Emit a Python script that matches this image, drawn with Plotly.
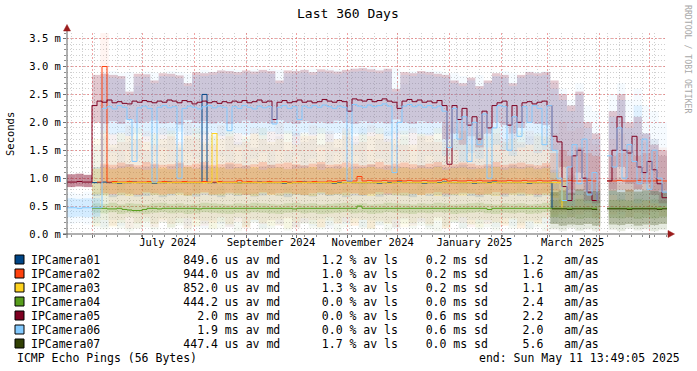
import plotly.graph_objects as go
from datetime import datetime, timedelta

# ---------------- data ----------------
START = datetime(2024, 5, 16, 13, 49, 5)
END = datetime(2025, 5, 11, 13, 49, 5)
N = None

names = ["IPCamera01", "IPCamera02", "IPCamera03", "IPCamera04", "IPCamera05", "IPCamera06", "IPCamera07"]
colors = ["#004586", "#ff420e", "#ffd320", "#579d1c", "#7e0021", "#83caff", "#314004"]
med_val = ["849.6", "944.0", "852.0", "444.2", "2.0", "1.9", "447.4"]
med_unit = ["us", "us", "us", "us", "ms", "ms", "us"]
loss_pct = ["1.2", "1.0", "1.3", "0.0", "0.0", "0.0", "1.7"]
sd_ms = ["0.2", "0.2", "0.2", "0.0", "0.6", "0.6", "0.0"]
am_as = ["1.2", "1.6", "1.1", "2.4", "2.2", "2.0", "5.6"]

# median samples, one every 3 days (ms)
m01 = [N]*5 + [0.92, 0.92, 0.93, 0.92, 0.92, 0.91, 0.92, 0.92, 0.93, 0.92, 0.92, 0.92, 0.91, 0.92, 0.92, 0.93, 0.92, 0.92, 0.92, 0.92, 0.92, 0.92,
       2.50] + [0.92, 0.92, 0.93, 0.92, 0.92, 0.92, 0.91, 0.92, 0.92, 0.92, 0.93, 0.92, 0.92, 0.92, 0.92, 0.91, 0.92, 0.92, 0.92, 0.93,
       0.92, 0.92, 0.92, 0.92, 0.92, 0.91, 0.92, 0.92, 0.93, 0.92, 0.92, 0.92, 0.92, 0.92, 0.91, 0.92, 0.92, 0.92, 0.93, 0.92,
       0.92, 0.92, 0.92, 0.91, 0.92, 0.92, 0.92, 0.93, 0.92, 0.92, 0.92, 0.92, 0.92, 0.91, 0.92, 0.92, 0.92, 0.93, 0.92, 0.92,
       0.92, 0.92, 0.92, 0.92, 0.91, 0.92, 0.92, 0.92, 0.92] + [0.45] + [N]*22
m02 = [N]*6 + [0.93, 3.00] + [0.93, 0.94, 0.93, 0.93, 0.94, 0.93, 0.93, 0.93, 0.94, 0.93, 0.93, 0.94, 0.93, 0.93, 0.93, 0.94, 0.93, 0.93, 0.93, 0.94,
       0.93, 0.93, 0.94, 0.93, 0.93, 0.93, 0.96, 0.93, 0.94, 0.93, 0.93, 0.93, 0.94, 0.93, 0.93, 0.94, 0.93, 0.93, 0.94, 0.93,
       0.93, 0.94, 0.93, 0.93, 0.95, 0.94, 0.95, 0.96, 0.95, 0.95, 1.03, 0.95, 0.96, 0.95, 0.95, 0.96, 0.95, 0.95, 0.96, 0.95,
       0.96, 0.95, 0.95, 0.96, 0.95, 0.95, 0.96, 0.98, 0.95, 0.96, 0.95, 0.95, 0.96, 0.95, 0.96, 0.95, 0.95, 0.96, 0.95, 0.95,
       0.96, 0.95, 0.95, 0.96, 0.95, 0.95, 0.96, 0.95, 0.95, 0.96, 0.95, 0.95, 0.96, 0.95, 0.95, 0.95, 0.96, 0.95, 0.95] + [N] + \
      [0.95, 0.95, 0.96, 0.95, 0.95, 0.95, 0.96, 0.95, 0.95, 0.95, 0.96, 0.95]
m03 = [N]*9 + [0.92]*20 + [1.80] + [0.92, 0.92, 0.92, 0.92, 0.91, 0.92, 0.92, 0.92, 0.92, 0.92, 0.92, 0.92, 0.92, 0.92, 0.91, 0.92, 0.92, 0.92, 0.92, 0.92,
       0.92, 0.92, 0.92, 0.92, 0.91, 0.92, 0.92, 0.92, 0.92, 0.92, 0.92, 0.92, 0.92, 0.92, 0.91, 0.92, 0.92, 0.92, 0.92, 0.92,
       0.92, 0.92, 0.92, 0.92, 0.91, 0.92, 0.92, 0.92, 0.92, 0.92, 0.92, 0.92, 0.92, 0.92, 0.91, 0.92, 0.92, 0.92, 0.92, 0.92,
       0.92, 0.92, 0.92, 0.92, 0.92, 0.92, 0.92, 0.92, 0.92] + [0.45] + [N]*20
m04 = [N]*5 + [0.46, 0.46, 0.46, 0.45, 0.45, 0.46, 0.44, 0.43, 0.42, 0.42, 0.44, 0.46, 0.46, 0.45, 0.46, 0.46, 0.46, 0.46, 0.46, 0.46,
       0.46, 0.45, 0.46, 0.46, 0.46, 0.46, 0.46, 0.46, 0.46, 0.46, 0.46, 0.46, 0.46, 0.46, 0.46, 0.46, 0.46, 0.46, 0.46, 0.46,
       0.45, 0.46, 0.46, 0.46, 0.46, 0.46, 0.46, 0.46, 0.46, 0.46, 0.46, 0.46, 0.46, 0.50, 0.46, 0.46, 0.46, 0.46, 0.46, 0.46,
       0.46, 0.46, 0.46, 0.46, 0.46, 0.46, 0.46, 0.46, 0.46, 0.46, 0.46, 0.46, 0.46, 0.46, 0.46, 0.46, 0.46, 0.46, 0.46, 0.44,
       0.46, 0.46, 0.46, 0.46, 0.46, 0.46, 0.46, 0.46, 0.46, 0.46, 0.46, 0.46, 0.46, 0.46, 0.46, 0.46, 0.46, 0.46, 0.46, 0.46,
       0.46, 0.46] + [N] + [0.46]*12
m05 = [0.93, 0.93, 0.94, 0.93, 0.93,
       2.30, 2.38, 2.36, 2.40, 2.35, 2.37, 2.34, 2.33, 2.38, 2.36, 2.39, 2.37, 2.35, 2.38, 2.36, 2.40, 2.38, 2.35, 2.39, 2.37,
       2.33, 2.36, 2.38, 2.35, 2.37, 2.34, 2.37, 2.35, 2.38, 2.36, 2.39, 2.35, 2.37, 2.40, 2.36, 2.38,
       2.05,
       2.36, 2.39, 2.35, 2.37, 2.40, 2.36, 2.38, 2.35, 2.37, 2.41, 2.38, 2.36, 2.39, 2.37,
       2.20,
       2.42, 2.40, 2.38, 2.41, 2.37, 2.39, 2.42, 2.38, 2.36,
       2.25,
       2.38, 2.41, 2.37, 2.40, 2.36, 2.38, 2.35, 2.39, 2.30,
       1.25,
       2.30, 2.05, 2.25, 1.95, 2.10, 1.70, 2.20, 1.90, 2.30, 2.35, 2.38, 1.95, 2.30, 2.00, 2.35, 2.37, 2.33, 2.36, 2.38, 2.30,
       1.75, 1.65, 0.85, 0.60, 1.40, 1.50, 1.00, 0.75, 0.60, 0.75,
       N,
       0.95, 1.50, 2.10, 1.50, 1.45, 1.75, 1.20, 1.10, 1.30, 1.15, 0.90, 0.65]
m06 = [0.47, 0.47, 0.46, 0.47, 0.47, 0.47, 0.47,
       2.25, 2.28, 2.24, 2.30, 2.27, 2.05, 1.30, 2.26, 2.29, 2.25, 0.93, 2.27, 2.30, 2.26, 2.28, 1.00,
       2.25, 2.29, 2.27, 2.24, 2.28, 2.30, 2.26, 2.29, 2.27, 1.85,
       2.28, 2.25, 2.30, 2.27, 2.24, 2.29, 2.26, 2.28, 1.97,
       2.27, 2.30, 2.25, 2.28, 2.05,
       2.29, 2.26, 2.30, 2.27, 2.31, 2.28, 2.25, 2.29, 2.27, 0.95,
       2.32, 2.29, 2.27, 2.31, 2.28, 2.30, 2.33, 2.29, 1.10, 2.00,
       2.29, 2.32, 2.28, 2.31, 2.27, 2.30, 2.26, 2.29, 2.20,
       1.55, 2.25, 1.70, 2.10, 1.30, 2.00, 1.60, 2.15, 1.00, 1.90, 2.30, 2.28, 1.50, 2.10, 1.75, 2.28, 2.00, 2.30, 2.25, 1.60,
       2.30, 1.50, 1.00, 0.60, 1.20, 1.60, 0.90, 1.70, 0.70, 1.10, 0.60,
       N,
       1.40, 1.20, 1.90, 1.00, 1.60, 1.30, 0.90, 1.70, 0.80, 1.50, 1.00, 0.75]
m07 = [N]*97 + [0.45, 0.45, 0.45, 0.44, 0.45, 0.45, 0.45, 0.45, 0.44, 0.45] + [N] + [0.45, 0.45, 0.45, 0.45, 0.44, 0.45, 0.45, 0.45, 0.45, 0.45, 0.44, 0.45]

# smoke (5-day bins): dense band lo/hi
s01_lo = [N]*3 + [0.68, 0.70, 0.66, 0.69, 0.71, 0.67, 0.68, 0.70, 0.66, 0.69, 0.72, 0.68, 0.67, 0.70, 0.69, 0.66, 0.71, 0.68, 0.70, 0.67,
                  0.69, 0.72, 0.68, 0.66, 0.70, 0.69, 0.67, 0.71, 0.68, 0.70, 0.66, 0.69, 0.68, 0.72, 0.67, 0.70, 0.69, 0.68, 0.66, 0.71,
                  0.68, 0.70, 0.67, 0.69, 0.72, 0.68, 0.66, 0.70, 0.69, 0.67, 0.71, 0.68, 0.70, 0.66, 0.69, 0.68] + [N]*13
s01_hi = [N]*3 + [1.20, 1.23, 1.18, 1.22, 1.25, 1.19, 1.21, 1.24, 1.17, 1.22, 1.26, 1.20, 1.18, 1.23, 1.21, 1.19, 1.25, 1.20, 1.22, 1.18,
                  1.21, 1.24, 1.20, 1.17, 1.23, 1.22, 1.19, 1.25, 1.20, 1.22, 1.18, 1.21, 1.20, 1.24, 1.19, 1.22, 1.21, 1.20, 1.18, 1.23,
                  1.20, 1.22, 1.19, 1.21, 1.24, 1.20, 1.18, 1.22, 1.21, 1.19, 1.23, 1.20, 1.22, 1.18, 1.21, 1.15] + [N]*13
s02_lo = [N]*4 + [0.73, 0.71, 0.74, 0.72, 0.70, 0.75, 0.73, 0.71, 0.72, 0.74, 0.70, 0.73, 0.75, 0.71, 0.72, 0.74, 0.73, 0.70, 0.72, 0.75,
                  0.71, 0.73, 0.74, 0.72, 0.70, 0.73, 0.75, 0.71, 0.72, 0.74, 0.73, 0.70, 0.72, 0.75, 0.71, 0.73, 0.74, 0.72, 0.70, 0.73,
                  0.75, 0.71, 0.72, 0.74, 0.73, 0.70, 0.72, 0.75, 0.71, 0.73, 0.74, 0.72, 0.70, 0.73,
                  0.78, 0.76, 0.80, 0.77, 0.79, 0.76] + [N] + [0.77, 0.79, 0.76, 0.80, 0.78, 0.77, 0.79]
s02_hi = [N]*4 + [1.26, 1.24, 1.28, 1.25, 1.23, 1.29, 1.26, 1.24, 1.25, 1.28, 1.23, 1.26, 1.29, 1.24, 1.25, 1.28, 1.26, 1.23, 1.25, 1.29,
                  1.24, 1.26, 1.28, 1.25, 1.23, 1.26, 1.29, 1.24, 1.25, 1.28, 1.26, 1.23, 1.25, 1.29, 1.24, 1.26, 1.28, 1.25, 1.23, 1.26,
                  1.29, 1.24, 1.25, 1.28, 1.26, 1.23, 1.25, 1.29, 1.24, 1.26, 1.28, 1.25, 1.23, 1.27,
                  1.45, 1.50, 1.40, 1.55, 1.45, 1.40] + [N] + [1.40, 1.45, 1.50, 1.40, 1.45, 1.50, 1.40]
s03_lo = [N]*3 + [0.71, 0.69, 0.72, 0.70, 0.68, 0.71, 0.73, 0.70, 0.69, 0.72, 0.70, 0.68, 0.71, 0.73, 0.70, 0.69, 0.72, 0.70, 0.71, 0.68,
                  0.73, 0.70, 0.69, 0.72, 0.71, 0.70, 0.68, 0.73, 0.70, 0.71, 0.69, 0.72, 0.70, 0.68, 0.71, 0.73, 0.70, 0.69, 0.72, 0.70,
                  0.71, 0.68, 0.73, 0.70, 0.69, 0.72, 0.71, 0.70, 0.68, 0.73, 0.70, 0.71, 0.69, 0.72, 0.70, 0.65, 0.55] + [N]*12
s03_hi = [N]*3 + [1.17, 1.19, 1.16, 1.18, 1.20, 1.17, 1.15, 1.18, 1.19, 1.16, 1.18, 1.20, 1.17, 1.15, 1.18, 1.19, 1.16, 1.18, 1.17, 1.20,
                  1.15, 1.18, 1.19, 1.16, 1.17, 1.18, 1.20, 1.15, 1.18, 1.17, 1.19, 1.16, 1.18, 1.20, 1.17, 1.15, 1.18, 1.19, 1.16, 1.18,
                  1.17, 1.20, 1.15, 1.18, 1.19, 1.16, 1.17, 1.18, 1.20, 1.15, 1.18, 1.17, 1.19, 1.16, 1.18, 1.10, 1.00] + [N]*12
s04_lo = [N]*3 + [0.38, 0.37, 0.39, 0.36, 0.38, 0.37, 0.36, 0.38, 0.39, 0.37, 0.38, 0.36, 0.37, 0.39, 0.38, 0.37, 0.36, 0.38, 0.37, 0.39,
                  0.38, 0.37, 0.36, 0.38, 0.39, 0.37, 0.38, 0.36, 0.37, 0.38, 0.39, 0.37, 0.38, 0.36, 0.37, 0.39, 0.38, 0.37, 0.36, 0.38,
                  0.37, 0.39, 0.38, 0.36, 0.37, 0.38, 0.39, 0.37, 0.36, 0.38, 0.37, 0.38, 0.36, 0.37, 0.39,
                  0.30, 0.28, 0.30, 0.27, 0.29, 0.28] + [N] + [0.29, 0.28, 0.30, 0.27, 0.29, 0.28, 0.30]
s04_hi = [N]*3 + [0.55, 0.54, 0.56, 0.53, 0.55, 0.54, 0.53, 0.55, 0.56, 0.54, 0.55, 0.53, 0.54, 0.56, 0.55, 0.54, 0.53, 0.55, 0.54, 0.56,
                  0.55, 0.54, 0.53, 0.55, 0.56, 0.54, 0.55, 0.53, 0.54, 0.55, 0.56, 0.54, 0.55, 0.53, 0.54, 0.56, 0.55, 0.54, 0.53, 0.55,
                  0.54, 0.56, 0.55, 0.53, 0.54, 0.55, 0.56, 0.54, 0.53, 0.55, 0.54, 0.55, 0.53, 0.54, 0.56,
                  0.60, 0.62, 0.60, 0.63, 0.61, 0.60] + [N] + [0.61, 0.62, 0.60, 0.63, 0.61, 0.62, 0.60]
s05_lo = [0.84, 0.85, 0.84,
          2.00, 1.98, 2.02, 1.97, 2.05, 1.99, 2.01, 2.03, 1.98, 2.00, 1.96, 2.04, 1.99, 2.02, 1.98, 2.01, 1.97, 2.00, 2.03, 1.99,
          2.01, 1.98, 2.04, 2.00, 1.97, 2.02, 1.99, 2.01, 1.98, 2.03, 2.00, 1.97, 2.02, 1.99, 2.01, 1.98, 2.05, 2.00, 1.97, 2.02,
          1.99, 2.01,
          1.70, 1.80, 1.60, 1.75, 1.55, 1.80, 2.00, 1.95, 1.80, 1.90, 2.00, 1.97, 1.95,
          1.50, 1.20, 0.70, 1.10, 0.60, 0.55, N, 0.80, 1.20, 0.90, 0.80, 0.90, 0.70, 0.55]
s05_hi = [1.07, 1.08, 1.06,
          2.85, 2.87, 2.85, 2.83, 2.55, 2.87, 2.86, 2.75, 2.88, 2.87, 2.84, 2.70, 2.90, 2.88, 2.90, 2.93, 2.92, 2.90, 2.93, 2.91,
          2.94, 2.92, 2.75, 2.93, 2.92, 2.94, 2.90, 2.95, 2.93, 2.91, 2.94, 2.96, 2.97, 2.95, 2.93, 2.96, 2.60, 2.90, 2.88, 2.92,
          2.90, 2.87,
          2.85, 2.75, 2.70, 2.80, 2.65, 2.75, 2.88, 2.85, 2.70, 2.85, 2.90, 2.88, 2.90,
          2.75, 2.50, 2.30, 2.55, 2.00, 1.80, N, 2.20, 2.50, 2.00, 2.10, 1.80, 1.60, 1.50]
s06_lo = [0.30, 0.31, 0.30, 0.31,
          1.80, 1.78, 1.82, 1.76, 1.80, 1.75, 1.81, 1.78, 1.79, 1.83, 1.77, 1.80, 1.78, 1.82, 1.76, 1.79, 1.81, 1.78, 1.80, 1.77,
          1.83, 1.79, 1.80, 1.76, 1.82, 1.78, 1.80, 1.79, 1.81, 1.77, 1.80, 1.78, 1.82, 1.79, 1.76, 1.80, 1.78, 1.81, 1.79, 1.77,
          1.80,
          1.40, 1.50, 1.30, 1.45, 1.35, 1.55, 1.60, 1.50, 1.40, 1.55, 1.60, 1.45, 1.50,
          0.80, 0.60, 0.50, 0.70, 0.55, 0.50, N, 0.70, 0.60, 0.80, 0.55, 0.60, 0.55, 0.50]
s06_hi = [0.64, 0.63, 0.64, 0.64,
          2.82, 2.80, 2.78, 2.50, 2.82, 2.81, 2.70, 2.83, 2.82, 2.79, 2.65, 2.85, 2.83, 2.85, 2.88, 2.87, 2.85, 2.88, 2.86, 2.89,
          2.87, 2.70, 2.88, 2.87, 2.89, 2.85, 2.90, 2.88, 2.86, 2.89, 2.91, 2.92, 2.90, 2.88, 2.91, 2.55, 2.85, 2.83, 2.87, 2.85,
          2.82,
          2.80, 2.70, 2.65, 2.75, 2.60, 2.70, 2.83, 2.80, 2.65, 2.80, 2.85, 2.83, 2.85,
          2.60, 2.40, 2.20, 2.50, 1.90, 1.70, N, 2.10, 2.40, 1.90, 2.30, 1.80, 1.70, 1.40]
s07_lo = [N]*58 + [0.18, 0.15, 0.17, 0.16, 0.18, 0.15] + [N] + [0.17, 0.16, 0.18, 0.15, 0.17, 0.16, 0.18]
s07_hi = [N]*58 + [0.75, 0.78, 0.74, 0.80, 0.76, 0.77] + [N] + [0.78, 0.75, 0.79, 0.76, 0.78, 0.77, 0.75]

# faint outer smoke (spikes)
o01_lo = [N]*3 + [0.20, 0.12, 0.25, 0.15, 0.30, 0.10, 0.22, 0.18, 0.28, 0.12, 0.20, 0.15, 0.26, 0.10, 0.24, 0.18, 0.12, 0.28, 0.15, 0.22,
                  0.10, 0.25, 0.18, 0.30, 0.12, 0.20, 0.15, 0.26, 0.10, 0.22, 0.18, 0.28, 0.12, 0.24, 0.15, 0.20, 0.10, 0.26, 0.18, 0.22,
                  0.12, 0.30, 0.15, 0.20, 0.10, 0.25, 0.18, 0.22, 0.12, 0.28, 0.15, 0.20, 0.10, 0.24, 0.18, 0.20] + [N]*13
o01_hi = [N]*3 + [1.60, 1.75, 1.55, 1.85, 1.65, 1.70, 1.50, 1.80, 1.60, 1.90, 1.55, 1.70, 1.85, 1.60, 1.75, 1.50, 1.80, 1.65, 1.70, 1.55,
                  1.90, 1.60, 1.75, 1.50, 1.85, 1.65, 1.70, 1.60, 1.80, 1.55, 1.75, 1.65, 1.90, 1.50, 1.70, 1.85, 1.60, 1.75, 1.55, 1.80,
                  1.65, 1.70, 1.50, 1.90, 1.60, 1.75, 1.85, 1.55, 1.70, 1.65, 1.80, 1.60, 1.75, 1.50, 1.70, 1.60] + [N]*13
o02_lo = [N]*4 + [0.80,
                  0.15, 0.25, 0.10, 0.20, 0.30, 0.12, 0.22, 0.18, 0.28, 0.10, 0.25, 0.15, 0.20, 0.30, 0.12, 0.22, 0.10, 0.26, 0.18, 0.24,
                  0.15, 0.28, 0.10, 0.20, 0.25, 0.12, 0.30, 0.18, 0.22, 0.15, 0.26, 0.10, 0.24, 0.20, 0.12, 0.28, 0.15, 0.22, 0.18, 0.30,
                  0.10, 0.25, 0.20, 0.12, 0.26, 0.18, 0.22, 0.15, 0.28, 0.10, 0.24, 0.20, 0.30, 0.35, 0.40, 0.30, 0.35, 0.40, 0.30] + [N] + \
         [0.35, 0.40, 0.30, 0.38, 0.35, 0.40, 0.32]
o02_hi = [N]*4 + [3.60,
                  1.80, 1.65, 1.95, 1.70, 1.85, 1.60, 1.90, 1.75, 1.65, 2.00, 1.70, 1.85, 1.60, 1.95, 1.75, 1.80, 1.65, 1.90, 1.70, 1.85,
                  2.00, 1.65, 1.80, 1.75, 1.95, 1.60, 1.85, 1.70, 1.90, 1.75, 1.65, 1.95, 1.80, 1.70, 1.85, 1.60, 1.90, 1.75, 1.80, 1.65,
                  1.95, 1.70, 1.85, 1.75, 1.60, 1.90, 1.80, 1.70, 1.95, 1.65, 1.85, 1.75, 1.90, 1.80, 2.00, 1.85, 1.90, 1.70, 1.60] + [N] + \
         [1.70, 1.80, 1.60, 1.75, 1.65, 1.70, 1.55]
o03_lo = [N]*3 + [0.15, 0.25, 0.12, 0.20, 0.30, 0.10, 0.22, 0.18, 0.26, 0.12, 0.20, 0.28, 0.15, 0.24, 0.10, 0.22, 0.18, 0.30, 0.12, 0.25,
                  0.20, 0.15, 0.26, 0.10, 0.22, 0.28, 0.18, 0.12, 0.24, 0.20, 0.30, 0.15, 0.25, 0.10, 0.22, 0.18, 0.26, 0.12, 0.20, 0.28,
                  0.15, 0.24, 0.10, 0.22, 0.30, 0.18, 0.12, 0.25, 0.20, 0.15, 0.26, 0.10, 0.22, 0.18, 0.28, 0.30, 0.35] + [N]*12
o03_hi = [N]*3 + [1.70, 1.85, 1.60, 1.80, 1.75, 1.90, 1.65, 1.80, 1.70, 1.85, 1.60, 1.75, 1.90, 1.65, 1.80, 1.70, 1.85, 1.60, 1.75, 1.80,
                  1.90, 1.65, 1.70, 1.85, 1.60, 1.80, 1.75, 1.90, 1.65, 1.70, 1.85, 1.60, 1.80, 1.75, 1.90, 1.65, 1.70, 1.85, 1.60, 1.80,
                  1.75, 1.90, 1.65, 1.70, 1.85, 1.60, 1.80, 1.75, 1.90, 1.65, 1.70, 1.85, 1.60, 1.80, 1.75, 1.50, 1.30] + [N]*12
o04_lo = [N]*3 + [0.12, 0.08, 0.15, 0.10, 0.05, 0.18, 0.12, 0.08, 0.20, 0.10, 0.15, 0.06, 0.12, 0.18, 0.08, 0.10, 0.15, 0.05, 0.12, 0.20,
                  0.08, 0.10, 0.16, 0.06, 0.12, 0.18, 0.10, 0.08, 0.15, 0.05, 0.12, 0.20, 0.10, 0.08, 0.16, 0.06, 0.12, 0.18, 0.10, 0.15,
                  0.08, 0.05, 0.12, 0.20, 0.10, 0.16, 0.08, 0.12, 0.06, 0.18, 0.10, 0.15, 0.08, 0.12, 0.05,
                  0.10, 0.08, 0.12, 0.06, 0.10, 0.08] + [N] + [0.10, 0.06, 0.12, 0.08, 0.10, 0.05, 0.09]
o04_hi = [N]*3 + [0.75, 0.85, 0.70, 0.90, 0.80, 0.72, 0.88, 0.78, 0.70, 0.85, 0.82, 0.75, 0.90, 0.70, 0.80, 0.85, 0.72, 0.88, 0.78, 0.75,
                  0.90, 0.80, 0.70, 0.85, 0.76, 0.82, 0.72, 0.88, 0.80, 0.75, 0.85, 0.70, 0.90, 0.78, 0.82, 0.72, 0.86, 0.75, 0.80, 0.88,
                  0.70, 0.85, 0.78, 0.72, 0.90, 0.80, 0.75, 0.85, 0.70, 0.82, 0.78, 0.88, 0.72, 0.80, 0.85,
                  0.90, 0.95, 0.85, 0.92, 0.88, 0.90] + [N] + [0.92, 0.88, 0.95, 0.85, 0.90, 0.88, 0.92]
o06_lo = [0.18, 0.20, 0.17, 0.19,
          1.30, 1.45, 1.20, 1.50, 1.35, 1.25, 1.40, 1.55, 1.30, 1.20, 1.45, 1.35, 1.50, 1.25, 1.40, 1.30, 1.55, 1.20, 1.35, 1.45,
          1.25, 1.50, 1.30, 1.40, 1.20, 1.35, 1.55, 1.25, 1.45, 1.30, 1.40, 1.20, 1.50, 1.35, 1.25, 1.45, 1.30, 1.55, 1.20, 1.40,
          1.00, 1.10, 0.90, 1.05, 0.95, 1.10, 1.20, 1.00, 0.95, 1.10, 1.15, 1.05, 1.00, 1.10,
          0.45, 0.40, 0.35, 0.45, 0.40, 0.35, N, 0.40, 0.35, 0.45, 0.40, 0.35, 0.40, 0.45]
o06_hi = [0.75, 0.72, 0.76, 0.74,
          2.90, 2.92, 2.88, 2.90, 2.65, 2.91, 2.89, 2.82, 2.92, 2.90, 2.87, 2.78, 2.94, 2.91, 2.93, 2.95, 2.94, 2.92, 2.95, 2.93,
          2.96, 2.94, 2.82, 2.95, 2.94, 2.96, 2.92, 2.97, 2.95, 2.93, 2.97, 2.98, 2.99, 2.97, 2.95, 2.97, 2.68, 2.92, 2.90, 2.93,
          2.92, 2.89, 2.88, 2.83, 2.78, 2.85, 2.73, 2.81, 2.92, 2.88, 2.83, 2.92, 2.90, 2.92,
          2.70, 2.60, 2.40, 2.70, 2.30, 2.20, N, 2.50, 2.70, 2.40, 2.60, 2.30, 2.20, 2.00]
o07_lo = [N]*58 + [0.08, 0.05, 0.10, 0.06, 0.08, 0.05] + [N] + [0.07, 0.05, 0.09, 0.06, 0.08, 0.05, 0.07]
o07_hi = [N]*58 + [1.00, 0.95, 1.05, 0.90, 1.00, 0.95] + [N] + [0.98, 1.02, 0.95, 1.00, 0.92, 0.98, 0.95]

y_ticks = [0.0, 0.5, 1.0, 1.5, 2.0, 2.5, 3.0, 3.5]
y_labels = ["0.0 m", "0.5 m", "1.0 m", "1.5 m", "2.0 m", "2.5 m", "3.0 m", "3.5 m"]
month_lines = ["2024-06-01", "2024-07-01", "2024-08-01", "2024-09-01", "2024-10-01", "2024-11-01", "2024-12-01",
               "2025-01-01", "2025-02-01", "2025-03-01", "2025-04-01", "2025-05-01"]
x_label_pos = ["2024-07-16", "2024-09-16", "2024-11-16", "2025-01-16", "2025-03-16"]
x_labels = ["July 2024", "September 2024", "November 2024", "January 2025", "March 2025"]

# ---------------- checks ----------------
for nm, arr in [("m01", m01), ("m02", m02), ("m03", m03), ("m04", m04), ("m05", m05), ("m06", m06), ("m07", m07)]:
    assert len(arr) == 120, (nm, len(arr))
smokes = {"s01_lo": s01_lo, "s01_hi": s01_hi, "s02_lo": s02_lo, "s02_hi": s02_hi, "s03_lo": s03_lo, "s03_hi": s03_hi,
          "s04_lo": s04_lo, "s04_hi": s04_hi, "s05_lo": s05_lo, "s05_hi": s05_hi, "s06_lo": s06_lo, "s06_hi": s06_hi,
          "s07_lo": s07_lo, "s07_hi": s07_hi, "o01_lo": o01_lo, "o01_hi": o01_hi, "o02_lo": o02_lo, "o02_hi": o02_hi,
          "o03_lo": o03_lo, "o03_hi": o03_hi, "o04_lo": o04_lo, "o04_hi": o04_hi, "o06_lo": o06_lo, "o06_hi": o06_hi,
          "o07_lo": o07_lo, "o07_hi": o07_hi}
for nm, arr in smokes.items():
    assert len(arr) == 72, (nm, len(arr))

# ---------------- figure ----------------
W, H = 697, 371
PL, PT, PR, PB = 67, 33, 667, 234   # plot area in window pixels
L, T = PL, PT
PW, PH = PR - PL, PB - PT
R, B = W - L - PW, H - T - PH
MONO = "DejaVu Sans Mono"


def px(x):
    return (x - PL) / PW


def py(y):
    return (PB - y) / PH


def rgba(hexc, a):
    h = hexc.lstrip("#")
    return "rgba(%d,%d,%d,%.3f)" % (int(h[0:2], 16), int(h[2:4], 16), int(h[4:6], 16), a)


day = timedelta(days=1)
bin_x = [START + (5 * j + 2.5) * day for j in range(72)]
bin_w = 5 * 86400000
med_x = [START + 3 * i * day for i in range(120)] + [END]

fig = go.Figure()


def smoke(lo, hi, color, alpha, dense_first=None):
    ys = [None if (a is None or b is None) else b - a for a, b in zip(lo, hi)]
    cols = [rgba(color, alpha)] * 72
    if dense_first:
        for k in range(dense_first[0]):
            cols[k] = rgba(color, dense_first[1])
    fig.add_trace(go.Bar(x=bin_x, y=ys, base=lo, width=bin_w, marker=dict(color=cols, line=dict(width=0)),
                         hoverinfo="skip"))


# faint outer smoke
smoke(o06_lo, o06_hi, colors[5], 0.07)
smoke(o01_lo, o01_hi, colors[0], 0.045)
smoke(o02_lo, o02_hi, colors[1], 0.06)
smoke(o03_lo, o03_hi, colors[2], 0.08)
smoke(o04_lo, o04_hi, colors[3], 0.06)
smoke(o07_lo, o07_hi, colors[6], 0.08)
# dense smoke
smoke(s01_lo, s01_hi, colors[0], 0.12)
smoke(s02_lo, s02_hi, colors[1], 0.20)
smoke(s03_lo, s03_hi, colors[2], 0.22)
smoke(s04_lo, s04_hi, colors[3], 0.18)
smoke(s05_lo, s05_hi, colors[4], 0.21, dense_first=(3, 0.45))
smoke(s06_lo, s06_hi, colors[5], 0.19, dense_first=(4, 0.30))
smoke(s07_lo, s07_hi, colors[6], 0.28)

for arr, c in zip([m01, m02, m03, m04, m05, m06, m07], colors):
    fig.add_trace(go.Scatter(x=med_x, y=arr + [arr[-1]], mode="lines", line=dict(color=c, width=1, shape="hv"),
                             connectgaps=False, hoverinfo="skip"))

# invisible trace to carry the label axis
fig.add_trace(go.Scatter(x=[START, END], y=[0, 0], xaxis="x2", mode="markers", marker=dict(opacity=0), hoverinfo="skip"))

major_grid = "rgba(225,90,90,0.55)"
minor_grid = "rgba(150,150,150,0.45)"

fig.update_layout(
    width=W, height=H, margin=dict(l=L, r=R, t=T, b=B, pad=0),
    paper_bgcolor="white", plot_bgcolor="white", barmode="overlay", showlegend=False,
    font=dict(family=MONO, size=10.5, color="black"),
    xaxis=dict(type="date", range=[START, END], tickmode="array", tickvals=month_lines, showticklabels=False,
               showgrid=True, gridcolor=major_grid, griddash="2px,2px", gridwidth=1,
               ticks="outside", ticklen=3, tickcolor="#707070", zeroline=False, showline=False,
               minor=dict(dtick=7 * 86400000, tick0="2024-05-26", showgrid=True, gridcolor=minor_grid,
                          griddash="1px,2px", ticks="outside", ticklen=2, tickcolor="#909090")),
    xaxis2=dict(type="date", range=[START, END], overlaying="x", anchor="y", side="bottom",
                tickmode="array", tickvals=x_label_pos, ticktext=x_labels, showgrid=False, ticks="",
                zeroline=False, showline=False, tickfont=dict(family=MONO, size=10.5, color="black")),
    yaxis=dict(range=[0, 3.6], tickmode="array", tickvals=y_ticks, ticktext=y_labels,
               showgrid=True, gridcolor=major_grid, griddash="2px,2px", gridwidth=1,
               ticks="outside", ticklen=3, tickcolor="#707070", zeroline=False, showline=False,
               tickfont=dict(family=MONO, size=10.5, color="black"),
               minor=dict(dtick=0.1, tick0=0, showgrid=True, gridcolor=minor_grid, griddash="1px,2px",
                          ticks="outside", ticklen=2, tickcolor="#909090")),
)

shapes = []
axis_col = "#606060"
arrow_col = "#9b1c1c"
shapes.append(dict(type="line", xref="paper", yref="paper", x0=px(67), x1=px(67), y0=py(238), y1=py(29),
                   line=dict(color=axis_col, width=1)))
shapes.append(dict(type="line", xref="paper", yref="paper", x0=px(63), x1=px(670), y0=py(234), y1=py(234),
                   line=dict(color=axis_col, width=1)))
shapes.append(dict(type="path", xref="paper", yref="paper",
                   path="M %f %f L %f %f L %f %f Z" % (px(63.5), py(31), px(67), py(24.5), px(70.5), py(31)),
                   fillcolor=arrow_col, line=dict(color=arrow_col, width=0.5)))
shapes.append(dict(type="path", xref="paper", yref="paper",
                   path="M %f %f L %f %f L %f %f Z" % (px(668), py(230.5), px(674.5), py(234), px(668), py(237.5)),
                   fillcolor=arrow_col, line=dict(color=arrow_col, width=0.5)))

annotations = []
row_y0 = 259.5
for k, nm in enumerate(names):
    cy = row_y0 + 14 * k
    shapes.append(dict(type="rect", xref="paper", yref="paper", x0=px(15), x1=px(24), y0=py(cy + 4.5), y1=py(cy - 4.5),
                       fillcolor=colors[k], line=dict(color="black", width=1)))
    row = "%-10s%17s %s av md%6s%s %% av ls%4s%s ms sd%5s%s%3sam/as" % (
        nm, med_val[k], med_unit[k], "", loss_pct[k], "", sd_ms[k], "", am_as[k], "")
    annotations.append(dict(x=px(29), y=py(cy), xref="paper", yref="paper", xanchor="left", yanchor="middle",
                            text=row.replace(" ", "\u00a0"), showarrow=False,
                            font=dict(family=MONO, size=11.5, color="black")))
cy = row_y0 + 14 * 7
annotations.append(dict(x=px(15), y=py(cy), xref="paper", yref="paper", xanchor="left", yanchor="middle",
                        text="ICMP Echo Pings (56 Bytes)".replace(" ", "\u00a0"), showarrow=False,
                        font=dict(family=MONO, size=11.5, color="black")))
annotations.append(dict(x=px(682), y=py(cy), xref="paper", yref="paper", xanchor="right", yanchor="middle",
                        text="end: Sun May 11 13:49:05 2025".replace(" ", "\u00a0"), showarrow=False,
                        font=dict(family=MONO, size=11.5, color="black")))
annotations.append(dict(x=px(348), y=py(13), xref="paper", yref="paper", xanchor="center", yanchor="middle",
                        text="Last 360 Days", showarrow=False, font=dict(family=MONO, size=13, color="black")))
annotations.append(dict(x=px(10), y=py(134), xref="paper", yref="paper", xanchor="center", yanchor="middle",
                        text="Seconds", textangle=-90, showarrow=False, font=dict(family=MONO, size=10.5, color="black")))
annotations.append(dict(x=px(688), y=py(59), xref="paper", yref="paper", xanchor="center", yanchor="middle",
                        text="RRDTOOL / TOBI OETIKER", textangle=90, showarrow=False,
                        font=dict(family=MONO, size=8.2, color="#a8a8a8")))

fig.update_layout(shapes=shapes, annotations=annotations)
fig.write_html("out.html", config={"displayModeBar": False, "staticPlot": True},
               post_script="document.body.style.margin='0';document.body.style.overflow='hidden';")
